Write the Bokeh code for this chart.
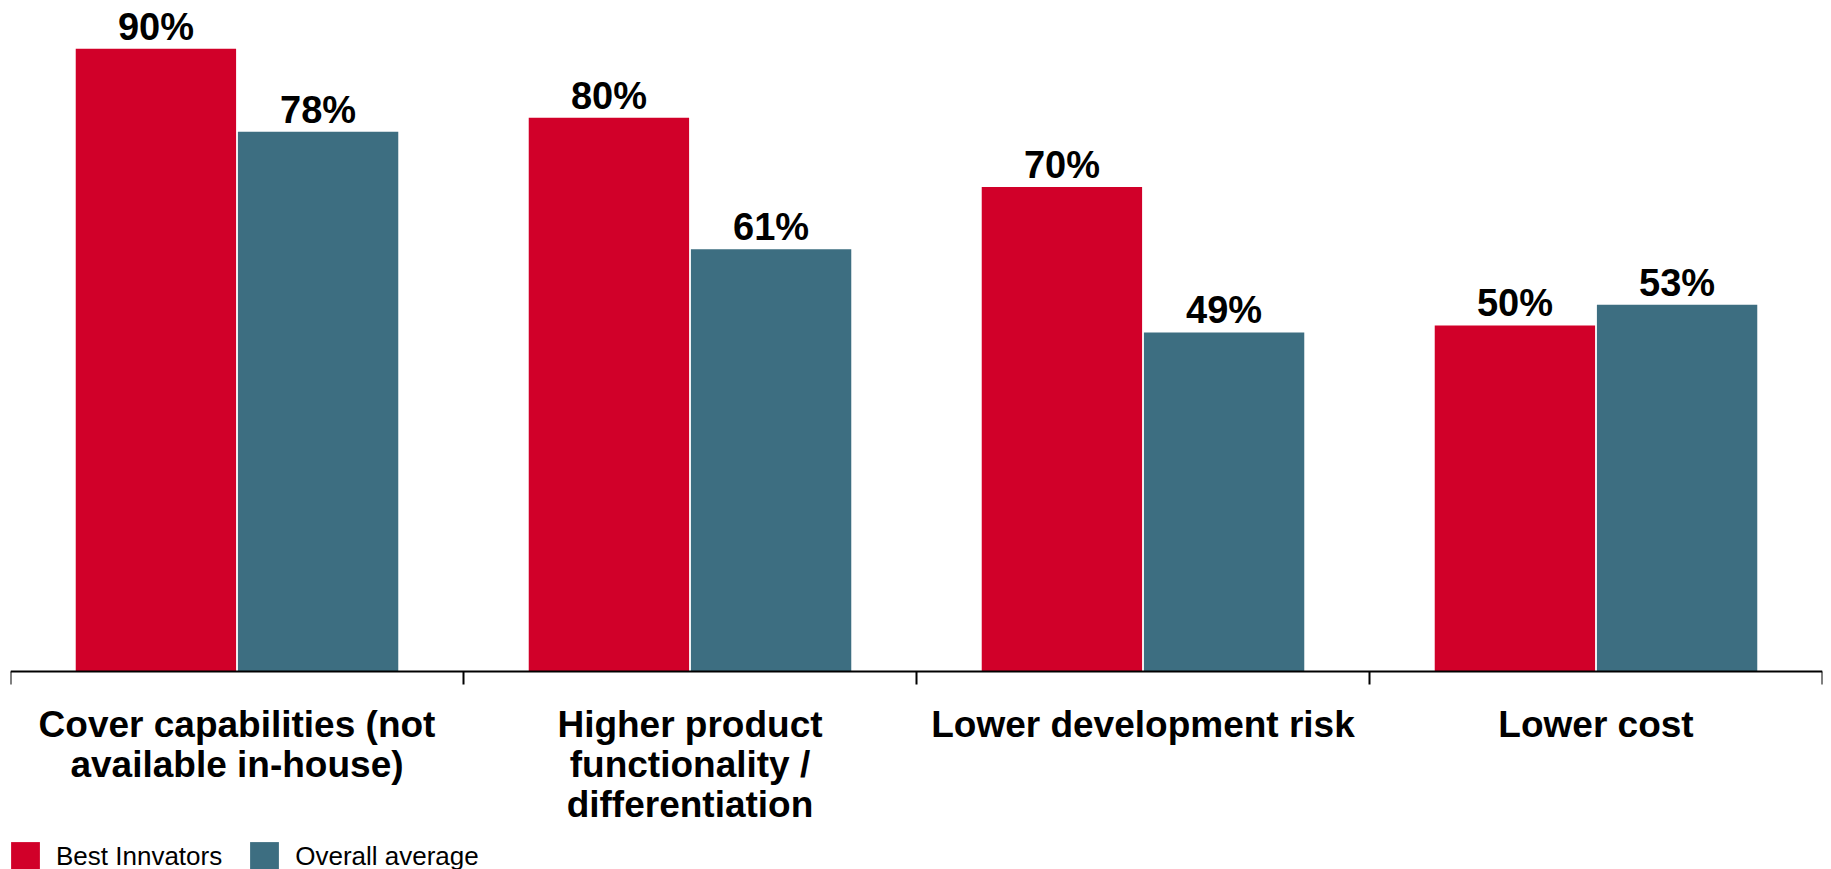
from bokeh.plotting import figure
from bokeh.models import Range1d, FixedTicker, Legend, LegendItem, ColumnDataSource
from bokeh.core.properties import value
from bokeh.embed import file_html
from bokeh.resources import INLINE
import numpy as np

categories = ["Cover capabilities (not\navailable in-house)",
              "Higher product\nfunctionality /\ndifferentiation",
              "Lower development risk",
              "Lower cost"]
best_innovators = [90, 80, 70, 50]
overall_average = [78, 61, 49, 53]
series_names = ["Best Innvators", "Overall average"]

RED = "#D10029"
TEAL = "#3D6E81"
FONT = "Liberation Sans"

idx = np.arange(len(categories)) + 0.5
off = 0.179
bw = 0.354

p = figure(width=1825, height=869, output_backend="svg", toolbar_location=None,
           x_range=Range1d(0, len(categories)), y_range=Range1d(-28.6, 95.8),
           y_axis_location=None, min_border_left=10, min_border_right=3,
           min_border_top=8, min_border_bottom=0)
p.outline_line_color = None
p.xgrid.visible = False
p.ygrid.visible = False

src_a = ColumnDataSource(dict(x=idx - off, top=best_innovators,
                              lab=[f"{v}%" for v in best_innovators]))
src_b = ColumnDataSource(dict(x=idx + off, top=overall_average,
                              lab=[f"{v}%" for v in overall_average]))

ra = p.vbar(x="x", top="top", bottom=0, width=bw, source=src_a, fill_color=RED, line_color=None)
rb = p.vbar(x="x", top="top", bottom=0, width=bw, source=src_b, fill_color=TEAL, line_color=None)

for src in (src_a, src_b):
    p.text(x="x", y="top", text="lab", source=src, text_align="center",
           text_baseline="alphabetic", y_offset=-22,
           text_font=value(FONT), text_font_style="bold", text_font_size="38px",
           text_color="black")

ax = p.xaxis[0]
ax.fixed_location = 0
ax.ticker = FixedTicker(ticks=list(idx), minor_ticks=list(range(len(categories) + 1)))
ax.major_label_overrides = {float(i): c for i, c in zip(idx, categories)}
ax.major_tick_out = 0
ax.major_tick_in = 0
ax.minor_tick_out = 13
ax.minor_tick_in = 0
ax.minor_tick_line_width = 2
ax.minor_tick_line_color = "black"
ax.axis_line_width = 2
ax.axis_line_color = "black"
ax.major_label_standoff = 19
ax.major_label_text_font = FONT
ax.major_label_text_font_style = "bold"
ax.major_label_text_font_size = "37px"
ax.major_label_text_color = "black"
ax.major_label_text_line_height = 0.98

legend = Legend(items=[LegendItem(label=series_names[0], renderers=[ra]),
                       LegendItem(label=series_names[1], renderers=[rb])],
                orientation="horizontal", location=(-3, -5),
                glyph_width=36, glyph_height=36, label_standoff=13, spacing=24,
                padding=0, margin=0, border_line_alpha=0, background_fill_alpha=0,
                label_text_font=FONT, label_text_font_size="26px", label_text_color="black")
p.add_layout(legend, "center")

open("out.html", "w").write(file_html(p, INLINE))
